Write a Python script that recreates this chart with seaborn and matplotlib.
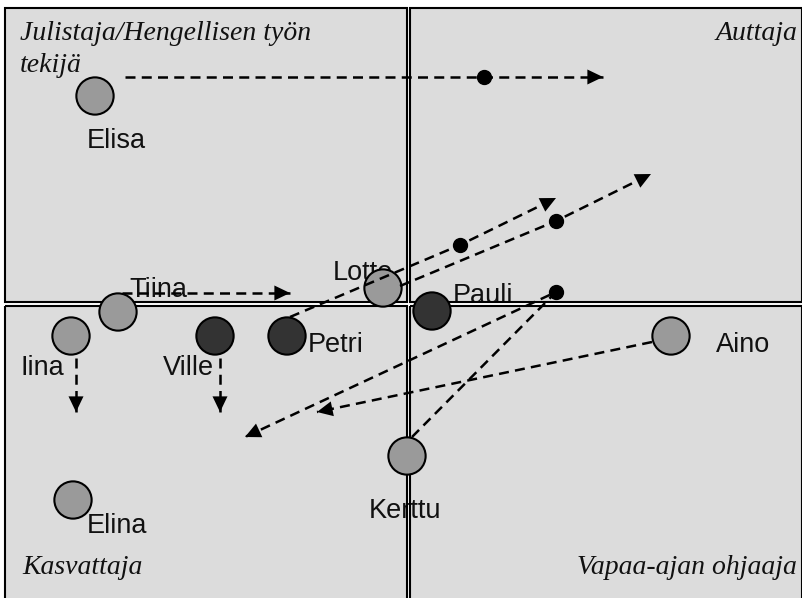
import numpy as np
import pandas as pd
import matplotlib
matplotlib.use("Agg")
import matplotlib.pyplot as plt
from matplotlib.patches import Rectangle
import seaborn as sns

# people (circle centres in picture pixels, y grows downwards)
names = ['Elisa', 'Tiina', 'Iina', 'Ville', 'Petri', 'Lotte', 'Pauli', 'Aino', 'Kerttu', 'Elina']
pos_x = [95, 118, 71, 215, 287, 383, 432, 671, 407, 73]
pos_y = [96, 312, 336, 336, 336, 288, 311, 336, 456, 500]
shade = ['light', 'light', 'light', 'dark', 'dark', 'light', 'dark', 'light', 'light', 'light']

# name labels (baseline positions)
label_x = [116, 158, 42, 188, 308, 363, 453, 716, 405, 87]
label_y = [148, 297, 375, 375, 352, 280, 303, 352, 518, 533]
label_ha = ['center', 'center', 'center', 'center', 'left', 'center', 'left', 'left', 'center', 'left']

# movements: start -> (middle dot) -> arrow tip
arrow_x0 = [125, 122, 76, 220, 290, 400, 412, 652]
arrow_y0 = [77, 293, 358, 358, 317, 286, 437, 342]
arrow_xm = [484, np.nan, np.nan, np.nan, 460, 556, 556, np.nan]
arrow_ym = [77, np.nan, np.nan, np.nan, 245, 221, 292, np.nan]
arrow_x1 = [603, 290, 76, 220, 556, 651, 245, 317]
arrow_y1 = [77, 293, 412, 412, 198, 174, 437, 412]

# quadrant titles
titles = ['Julistaja/Hengellisen työn', 'tekijä', 'Auttaja', 'Kasvattaja', 'Vapaa-ajan ohjaaja']
title_x = [20, 20, 797, 22, 797]
title_y = [40, 72, 40, 574, 574]
title_ha = ['left', 'left', 'right', 'left', 'right']

people = pd.DataFrame({'name': names, 'x': pos_x, 'y': pos_y, 'shade': shade})

sns.set_style('white')

fig = plt.figure(figsize=(8.03, 5.98), dpi=100)
ax = fig.add_axes([0, 0, 1, 1])

# four quadrant boxes with a thin white gap between them
boxes = [(5, 8, 402, 294), (410, 8, 392, 294), (5, 306, 402, 300), (410, 306, 392, 300)]
for bx, by, bw, bh in boxes:
    ax.add_patch(Rectangle((bx, by), bw, bh, facecolor='#dcdcdc', edgecolor='none', zorder=0))
    ax.add_patch(Rectangle((bx, by), bw, bh, fill=False, edgecolor='black', lw=1.5, zorder=2))

for t, tx, ty, ha in zip(titles, title_x, title_y, title_ha):
    ax.text(tx, ty, t, ha=ha, va='baseline', fontsize=20, family='Liberation Serif',
            style='italic', color='#111111', zorder=1)

for t, tx, ty, ha in zip(names, label_x, label_y, label_ha):
    ax.text(tx, ty, t, ha=ha, va='baseline', fontsize=19.5, family='Liberation Sans',
            color='#111111', zorder=1)

sns.scatterplot(data=people, x='x', y='y', hue='shade',
                palette={'light': '#9a9a9a', 'dark': '#333333'},
                s=720, edgecolor='black', linewidth=1.5, legend=False, zorder=3, ax=ax)

for x0, y0, xm, ym, x1, y1 in zip(arrow_x0, arrow_y0, arrow_xm, arrow_ym, arrow_x1, arrow_y1):
    if np.isnan(xm):
        xs, ys = [x0, x1], [y0, y1]
    else:
        xs, ys = [x0, xm, x1], [y0, ym, y1]
        ax.plot(xm, ym, 'o', color='black', ms=10, zorder=5)
    ax.plot(xs, ys, color='black', lw=1.8, linestyle=(0, (4, 2.5)), zorder=4)
    dx, dy = xs[-1] - xs[-2], ys[-1] - ys[-2]
    d = np.hypot(dx, dy)
    back = (x1 - 20 * dx / d, y1 - 20 * dy / d)
    ax.annotate('', xy=(x1, y1), xytext=back,
                arrowprops=dict(arrowstyle='-|>,head_length=0.75,head_width=0.36',
                                mutation_scale=15, color='black', lw=0,
                                shrinkA=0, shrinkB=0), zorder=5)

ax.set_xlim(0, 803)
ax.set_ylim(598, 0)
ax.axis('off')

fig.savefig('out.png', dpi=100, facecolor='white')
